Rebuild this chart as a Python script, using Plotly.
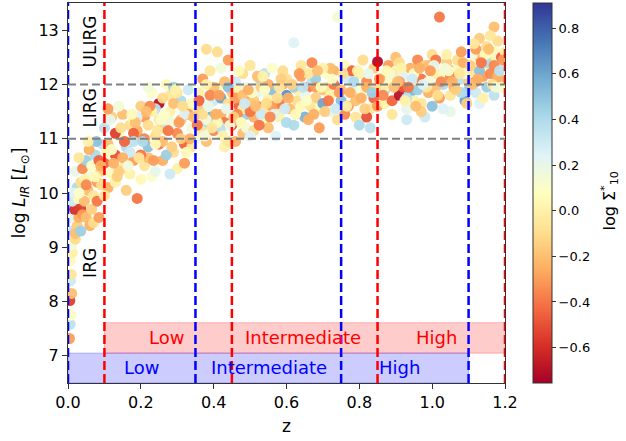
import plotly.graph_objects as go

# ---- data ----
z_a = [0.004,0.006,0.008,0.005,0.010,0.007,0.009,0.006,0.012,0.010,
       0.020,0.015,0.025,0.008,0.030,0.018,0.035,0.040,0.012,0.028,
       0.045,0.050,0.060,0.070,0.085,0.025,0.035,0.020,0.040,0.050,
       0.030,0.060,0.055,0.065,0.075,0.080,0.090,0.095,0.070,0.085,
       0.045,0.058,0.078,0.092,0.015]
l_a = [7.32,7.58,7.75,8.02,8.15,8.38,8.50,8.75,8.90,9.05,
       9.15,9.30,9.40,9.55,9.55,9.70,9.72,9.60,9.85,9.90,
       9.85,9.55,9.40,9.45,9.55,10.10,10.20,10.40,10.45,10.60,
       10.65,10.30,10.05,10.50,10.70,10.20,10.40,10.90,9.95,10.60,
       10.25,10.80,10.95,10.15,10.00]
s_a = [-0.30,0.35,0.10,-0.55,-0.20,0.30,-0.05,0.05,0.00,0.15,
       -0.10,0.35,-0.15,0.20,-0.25,-0.60,-0.55,-0.30,0.30,0.05,
       -0.20,-0.20,-0.25,-0.10,-0.30,0.40,-0.10,0.20,-0.35,0.45,
       -0.05,0.15,-0.20,0.10,0.40,-0.30,-0.15,0.35,-0.05,-0.45,
       0.00,-0.25,0.50,-0.10,0.25]

z_b = [0.10,0.11,0.12,0.10,0.13,0.14,0.12,0.15,0.11,0.16,
       0.17,0.13,0.18,0.15,0.19,0.14,0.16,0.20,0.17,0.18,
       0.21,0.19,0.22,0.20,0.23,0.21,0.24,0.22,0.25,0.23,
       0.24,0.26,0.25,0.27,0.26,0.28,0.27,0.29,0.28,0.30,
       0.30,0.31,0.29,0.32,0.31,0.33,0.32,0.34,0.33,0.34,
       0.11,0.12,0.14,0.16,0.18,0.20,0.22,0.24,0.26,0.28,
       0.15,0.17,0.19,0.21,0.23,0.25,0.27,0.29,0.31,0.33,
       0.13,0.18,0.22,0.26,0.30,0.34,0.20,0.24,0.28,0.32]
l_b = [10.55,10.90,10.35,11.20,10.70,11.05,11.40,10.45,10.10,10.85,
       11.25,10.20,10.60,11.45,9.90,11.60,10.05,11.00,10.75,11.35,
       10.50,11.15,10.85,11.60,10.30,11.40,11.05,10.65,11.65,11.85,
       10.40,11.20,10.90,12.00,10.60,11.50,11.30,10.75,11.80,11.10,
       10.45,11.70,11.95,10.90,11.35,11.55,10.55,11.20,11.90,10.85,
       11.55,10.80,10.40,10.95,11.10,10.25,11.25,11.55,10.95,11.30,
       10.65,10.35,11.40,11.00,11.50,11.35,10.70,11.65,11.00,11.45,
       11.10,10.95,11.95,11.75,11.85,11.65,10.70,10.90,10.35,11.45]
s_b = [-0.45,-0.20,0.05,0.35,-0.50,0.10,-0.15,-0.05,-0.25,0.40,
       -0.10,0.00,-0.30,-0.20,-0.40,0.15,-0.15,-0.35,0.30,0.00,
       -0.05,-0.25,0.50,-0.15,0.10,-0.30,-0.10,-0.20,-0.70,0.10,
       0.20,-0.15,-0.40,0.05,-0.25,0.00,0.30,-0.10,-0.05,-0.35,
       0.00,0.40,0.45,-0.45,-0.20,-0.10,-0.30,0.15,0.30,-0.05,
       -0.30,0.10,-0.15,0.20,-0.45,0.05,-0.10,0.35,-0.20,0.15,
       -0.25,0.00,0.25,-0.35,0.00,-0.05,0.45,-0.20,-0.15,-0.30,
       -0.55,0.35,0.15,-0.10,-0.05,0.05,-0.40,0.05,0.30,0.25]

z_c = [0.35,0.36,0.37,0.36,0.38,0.37,0.39,0.38,0.40,0.39,
       0.41,0.40,0.42,0.41,0.43,0.42,0.44,0.43,0.45,0.44,
       0.45,0.46,0.47,0.46,0.48,0.47,0.49,0.48,0.50,0.49,
       0.50,0.51,0.52,0.51,0.53,0.52,0.54,0.53,0.55,0.54,
       0.55,0.56,0.57,0.56,0.58,0.57,0.59,0.58,0.60,0.59,
       0.36,0.38,0.40,0.42,0.44,0.46,0.48,0.50,0.52,0.54,
       0.37,0.39,0.41,0.43,0.45,0.47,0.49,0.51,0.53,0.55,
       0.38,0.42,0.46,0.50,0.54,0.58,0.56,0.60,0.44,0.48]
l_c = [11.00,11.55,11.25,11.85,10.95,12.10,11.40,12.65,11.70,12.25,
       12.60,11.15,11.45,11.95,10.85,11.75,12.45,11.30,11.55,10.95,
       11.85,11.30,11.60,12.05,11.10,11.90,11.45,12.20,11.70,11.20,
       12.35,11.40,11.85,11.15,12.05,11.60,11.30,11.95,11.75,12.20,
       11.20,11.90,11.50,12.30,11.65,11.05,12.00,11.40,11.80,12.25,
       11.70,11.35,11.95,11.20,11.65,11.75,11.55,11.05,12.15,11.55,
       11.45,11.80,11.30,12.05,11.25,12.25,11.95,11.70,11.45,12.00,
       12.00,12.30,10.95,11.50,11.90,11.95,11.60,11.30,11.95,11.80]
s_c = [0.20,-0.15,0.40,0.00,-0.20,-0.30,0.55,-0.10,0.30,-0.05,
       -0.10,-0.35,-0.25,0.05,0.00,0.60,-0.30,-0.40,0.25,-0.05,
       -0.15,0.10,-0.45,0.30,-0.20,0.00,0.45,-0.10,-0.30,0.15,
       -0.05,-0.25,0.20,-0.10,0.40,-0.35,0.05,-0.15,0.00,0.35,
       -0.20,0.50,-0.05,0.10,-0.40,0.25,-0.25,0.00,0.65,-0.10,
       -0.45,0.15,-0.20,0.35,-0.10,-0.30,0.00,0.25,-0.20,-0.05,
       -0.10,-0.35,0.05,-0.20,-0.50,0.05,0.20,-0.15,0.30,-0.25,
       0.00,0.15,-0.25,-0.40,0.10,-0.05,-0.30,0.40,0.50,-0.20]

z_d = [0.61,0.62,0.63,0.62,0.64,0.63,0.65,0.64,0.66,0.65,
       0.67,0.66,0.68,0.67,0.69,0.68,0.70,0.69,0.71,0.70,
       0.71,0.72,0.73,0.72,0.74,0.73,0.75,0.74,0.76,0.75,
       0.77,0.76,0.78,0.77,0.79,0.78,0.80,0.79,0.81,0.80,
       0.81,0.82,0.83,0.82,0.84,0.83,0.85,0.84,0.85,0.80,
       0.60,0.64,0.68,0.72,0.76,0.70,0.66,0.62,0.78,0.82]
l_d = [11.55,12.77,11.90,11.25,12.15,11.70,11.40,12.35,11.95,11.80,
       12.05,11.35,11.75,12.40,11.55,12.10,11.90,11.20,12.20,11.65,
       11.95,11.50,12.25,11.80,13.24,12.00,11.70,11.35,12.15,11.90,
       11.60,12.35,11.85,12.10,11.40,12.25,11.95,11.70,12.45,11.25,
       11.80,12.05,11.55,11.95,12.30,11.20,12.42,11.75,11.60,12.20,
       12.10,11.60,11.95,12.30,11.45,12.30,12.20,11.95,11.90,11.40]
s_d = [-0.20,0.25,0.00,0.40,-0.30,-0.10,0.55,-0.05,-0.40,0.20,
       0.35,-0.25,-0.15,-0.35,0.05,0.45,-0.20,-0.30,0.10,0.60,
       -0.05,0.20,-0.25,0.00,0.15,-0.40,0.50,-0.10,0.25,-0.20,
       -0.30,0.05,-0.15,0.30,-0.05,-0.45,0.10,-0.20,-0.10,0.40,
       0.15,-0.35,-0.05,-0.25,-0.15,0.35,-0.72,-0.45,-0.30,0.00,
       -0.10,0.05,-0.30,-0.20,-0.35,0.00,-0.05,0.45,0.20,-0.50]

z_e = [0.86,0.87,0.88,0.87,0.89,0.88,0.90,0.89,0.91,0.90,
       0.92,0.91,0.93,0.92,0.94,0.93,0.95,0.94,0.96,0.95,
       0.97,0.96,0.98,0.97,0.99,0.98,1.00,0.99,1.01,1.00,
       1.02,1.01,1.03,1.02,1.04,1.03,1.05,1.04,1.06,1.05,
       1.07,1.06,1.08,1.07,1.09,1.08,1.10,1.09,1.10,1.05,
       0.87,0.91,0.95,0.99,1.03,0.89,0.93,0.97,1.01,1.08]
l_e = [12.10,11.65,12.35,11.90,11.45,12.05,12.50,11.70,11.80,12.25,
       12.15,12.40,11.55,11.95,12.30,11.35,12.00,11.85,12.45,11.70,
       12.10,11.90,12.35,11.65,12.05,11.40,12.55,11.85,12.20,11.60,
       13.24,11.95,12.15,11.75,12.40,12.00,11.80,12.55,12.25,11.50,
       12.30,11.95,12.10,12.45,11.70,12.60,12.05,12.20,11.90,12.15,
       11.95,12.05,12.20,12.35,11.55,12.20,11.75,11.50,12.45,11.85]
s_e = [-0.15,0.00,-0.30,0.40,-0.05,0.10,-0.20,-0.45,-0.70,0.05,
       0.25,-0.10,0.20,-0.50,-0.25,0.30,-0.05,0.55,-0.35,0.00,
       -0.40,0.45,-0.15,-0.05,0.15,0.30,-0.10,-0.25,0.00,0.50,
       -0.40,-0.20,0.05,-0.30,-0.15,0.40,-0.05,0.00,-0.45,0.20,
       0.10,-0.25,0.35,-0.10,0.60,-0.30,-0.15,0.05,0.45,-0.35,
       0.00,-0.30,0.10,-0.20,0.25,-0.05,0.35,-0.15,-0.40,0.40]

z_f = [1.11,1.12,1.13,1.12,1.14,1.13,1.15,1.14,1.16,1.15,
       1.17,1.16,1.18,1.17,1.19,1.18,1.19,1.17,1.11,1.13,
       1.12,1.14,1.16,1.18,1.15,1.19,1.11,1.13,1.17,1.20]
l_f = [12.25,11.85,12.50,12.05,12.30,11.65,12.70,12.15,12.45,11.95,
       13.06,12.20,12.35,12.60,12.05,12.80,12.50,11.80,12.55,12.85,
       12.65,11.75,12.90,12.15,12.40,11.95,12.00,12.25,12.35,12.60]
s_f = [-0.05,0.30,-0.20,-0.40,0.10,0.25,-0.10,-0.30,0.00,0.45,
       -0.20,-0.35,0.20,0.05,-0.25,-0.10,-0.45,0.35,0.15,-0.15,
       -0.30,0.00,-0.05,-0.25,0.40,0.10,-0.20,0.50,-0.35,0.00]

z_g = [0.105,0.125,0.145,0.165,0.185,0.205,0.225,0.245,0.265,0.285,
       0.305,0.325,0.345,0.365,0.385,0.405,0.425,0.445,0.465,0.485,
       0.505,0.525,0.545,0.565,0.585,0.605,0.625,0.645,0.665,0.685,
       0.705,0.725,0.745,0.765,0.785,0.805,0.825,0.845,0.865,0.885,
       0.905,0.925,0.945,0.965,0.985,1.005,1.025,1.045,1.065,1.085,
       0.020,0.030,0.050,0.065,0.075,0.090,0.055,0.080,0.035,0.100,
       0.115,0.135,0.155,0.175,0.195,0.215,0.235,0.255,0.275,0.295,
       0.315,0.335,0.355,0.375,0.395,0.415,0.435,0.455,0.475,0.495,
       0.515,0.535,0.555,0.575,0.595,0.615,0.635,0.655,0.675,0.695,
       0.715,0.735,0.755,0.775,0.795,0.815,0.835,0.855,0.875,0.895,
       0.915,0.935,0.955,0.975,0.995,1.015,1.035,1.055,1.075,1.095,
       1.105,1.125,1.145,1.165,1.185,1.115,1.135,1.155,1.175,1.195]
l_g = [10.75,10.55,11.20,10.50,11.30,10.95,11.60,11.15,11.45,10.85,
       11.30,10.75,11.40,11.15,11.60,11.45,11.05,11.25,11.45,11.65,
       11.85,11.25,11.65,11.45,12.10,11.75,11.45,11.95,11.60,12.25,
       11.50,12.10,11.85,11.60,12.05,11.75,12.20,11.95,11.80,12.20,
       12.05,11.70,12.10,12.30,11.95,12.35,12.05,12.25,11.90,12.40,
       9.25,10.00,10.15,9.70,10.30,10.50,10.95,9.85,9.30,9.95,
       11.35,10.30,10.95,11.45,10.65,11.50,10.60,11.35,11.15,11.90,
       11.60,11.00,11.25,11.05,11.20,11.80,11.55,11.40,11.30,11.90,
       11.60,12.15,11.40,11.75,11.55,12.00,12.20,11.70,11.45,11.95,
       11.70,11.55,12.20,11.85,12.25,11.55,11.85,12.10,12.25,11.95,
       12.30,11.95,11.60,12.00,12.25,11.80,12.30,12.05,12.20,11.65,
       12.35,12.10,12.55,12.00,12.25,12.75,12.40,12.65,11.95,12.45]
s_g = [0.05,-0.25,-0.10,0.15,-0.20,0.40,-0.35,-0.05,0.10,-0.15,
       -0.30,0.05,-0.20,-0.05,0.20,-0.25,0.00,0.15,-0.35,0.30,
       0.10,-0.40,-0.10,0.25,-0.15,-0.25,0.05,0.35,-0.05,-0.20,
       -0.15,0.10,-0.30,0.00,0.40,-0.25,0.20,-0.10,-0.35,0.15,
       -0.20,0.00,0.30,-0.25,-0.05,0.20,-0.35,0.10,-0.15,-0.25,
       -0.20,0.10,-0.35,-0.15,0.05,-0.25,0.00,-0.40,0.45,-0.05,
       0.20,-0.15,-0.45,0.05,-0.05,-0.20,-0.30,0.10,-0.40,0.00,
       -0.10,-0.25,-0.40,0.15,-0.05,-0.30,0.20,-0.15,0.05,-0.25,
       -0.20,0.00,-0.35,-0.10,0.30,-0.15,-0.30,0.10,-0.25,0.05,
       -0.40,0.30,-0.10,-0.25,0.00,-0.15,0.45,-0.30,0.05,-0.20,
       0.00,-0.40,-0.20,0.25,-0.30,-0.10,0.15,-0.25,-0.05,-0.15,
       -0.15,-0.25,0.05,-0.10,0.35,-0.05,-0.40,-0.20,0.15,-0.30]

red_bins = [0.10, 0.45, 0.85, 1.20]
blue_bins = [0.00, 0.35, 0.75, 1.10]
lir_lines = [11, 12]
bin_labels = ["Low", "Intermediate", "High"]
red_label_z = [0.27, 0.645, 1.013]
blue_label_z = [0.203, 0.553, 0.91]
class_labels = ["ULIRG", "LIRG", "IRG"]
class_label_y = [12.79, 11.57, 8.71]

z = z_a + z_b + z_c + z_d + z_e + z_f + z_g
lir = l_a + l_b + l_c + l_d + l_e + l_f + l_g
sig = s_a + s_b + s_c + s_d + s_e + s_f + s_g

FONT = "DejaVu Sans"

fig = go.Figure()
fig.add_trace(go.Scatter(
    x=z, y=lir, mode="markers",
    marker=dict(size=11, color=sig, colorscale="RdYlBu", cmin=-0.755, cmax=0.91,
                opacity=0.95, line=dict(width=0),
                colorbar=dict(
                    x=1.064, xanchor="left", xpad=0, y=0.5, yanchor="middle",
                    len=1.0, lenmode="fraction", ypad=0,
                    thickness=19, outlinewidth=1, outlinecolor="#333",
                    tickvals=[-0.6, -0.4, -0.2, 0.0, 0.2, 0.4, 0.6, 0.8],
                    ticktext=["\u22120.6", "\u22120.4", "\u22120.2", "0.0", "0.2", "0.4", "0.6", "0.8"],
                    ticks="outside", ticklen=4, tickcolor="#333",
                    tickfont=dict(family=FONT, size=13, color="black"),
                )),
    showlegend=False, hoverinfo="skip"))

shapes = []
shapes.append(dict(type="rect", xref="x", yref="y", x0=red_bins[0], x1=red_bins[-1], y0=7.05, y1=7.61,
                   fillcolor="rgba(255,0,0,0.2)", line=dict(color="rgba(255,0,0,0.25)", width=1), layer="below"))
shapes.append(dict(type="rect", xref="x", yref="y", x0=blue_bins[0], x1=blue_bins[-1], y0=6.5, y1=7.05,
                   fillcolor="rgba(0,0,255,0.2)", line=dict(color="rgba(0,0,255,0.25)", width=1), layer="below"))
for yv in lir_lines:
    shapes.append(dict(type="line", xref="paper", yref="y", x0=0, x1=1, y0=yv, y1=yv,
                       line=dict(color="gray", width=2, dash="8px,4px"), layer="above"))
for xv in blue_bins:
    shapes.append(dict(type="line", xref="x", yref="paper", x0=xv, x1=xv, y0=0, y1=1,
                       line=dict(color="#0000ff", width=2.5, dash="9px,4px"), layer="above"))
for xv in red_bins:
    shapes.append(dict(type="line", xref="x", yref="paper", x0=xv, x1=xv, y0=0, y1=1,
                       line=dict(color="#ff0000", width=2.5, dash="9px,4px"), layer="above"))

annotations = []
for lab, xv in zip(bin_labels, red_label_z):
    annotations.append(dict(x=xv, y=7.335, xref="x", yref="y", text=lab, showarrow=False,
                            font=dict(family=FONT, size=18, color="#ff0000")))
for lab, xv in zip(bin_labels, blue_label_z):
    annotations.append(dict(x=xv, y=6.78, xref="x", yref="y", text=lab, showarrow=False,
                            font=dict(family=FONT, size=18, color="#0000ff")))
for lab, yv in zip(class_labels, class_label_y):
    annotations.append(dict(x=0.06, y=yv, xref="x", yref="y", text=lab, showarrow=False, textangle=-90,
                            font=dict(family=FONT, size=17, color="black")))
# colorbar title
annotations.append(dict(x=1.240, y=0.48, xref="paper", yref="paper", text="log \u03a3<sup>*</sup><sub>10</sub>",
                        showarrow=False, textangle=-90, xanchor="center", yanchor="middle",
                        font=dict(family=FONT, size=16, color="black")))

fig.update_layout(
    width=626, height=441,
    margin=dict(l=68, r=121, t=3, b=58),
    paper_bgcolor="white", plot_bgcolor="white",
    font=dict(family=FONT, size=16, color="black"),
    shapes=shapes, annotations=annotations,
    xaxis=dict(range=[0, 1.2], tickvals=[0, 0.2, 0.4, 0.6, 0.8, 1.0, 1.2], tickformat=".1f",
               ticks="outside", ticklen=5, tickcolor="#333", showgrid=False, zeroline=False,
               showline=True, linecolor="#333", linewidth=1, mirror=True,
               tickfont=dict(family=FONT, size=16), title=dict(text="z", standoff=8,
               font=dict(family=FONT, size=17))),
    yaxis=dict(range=[6.5, 13.5], tickvals=[7, 8, 9, 10, 11, 12, 13],
               ticks="outside", ticklen=5, tickcolor="#333", showgrid=False, zeroline=False,
               showline=True, linecolor="#333", linewidth=1, mirror=True,
               tickfont=dict(family=FONT, size=16),
               title=dict(text="log <i>L</i><sub><i>IR</i></sub> [<i>L</i><sub>\u2299</sub>]", standoff=8,
                          font=dict(family=FONT, size=17))),
)

fig.write_html("out.html")
